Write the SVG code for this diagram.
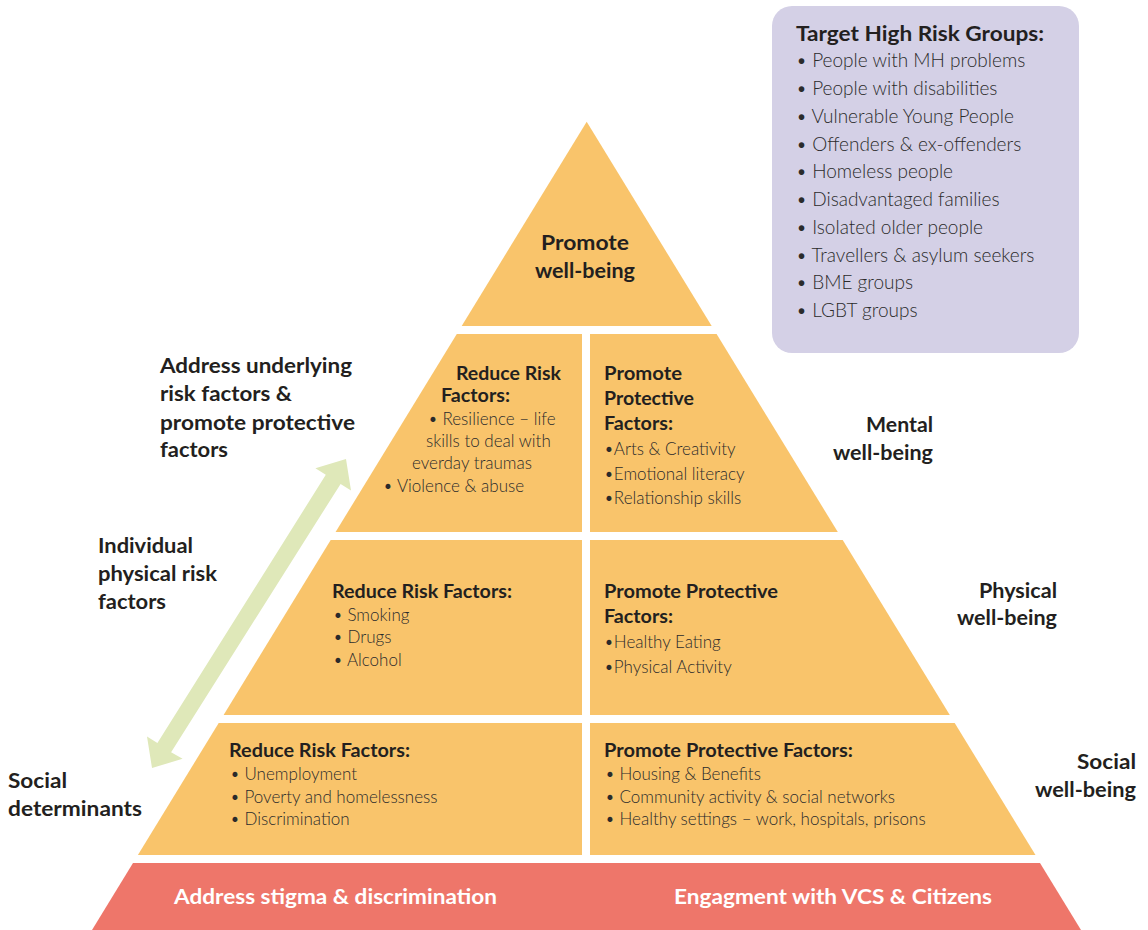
<svg xmlns="http://www.w3.org/2000/svg" width="1148" height="930" viewBox="0 0 1148 930">
<style>
.tier{fill:#F9C46B}
.base{fill:#EE766A}
.panel{fill:#D4D0E6}
.arrow{fill:#DFE8B9}
text{font-family:Lato,"Open Sans","Liberation Sans",sans-serif;fill:#231F20}
.h{font-weight:700;font-size:20px}
.hb{font-weight:700;font-size:18px}
.li{font-weight:300;font-size:17px;fill:#2B2B2B}
.gl{font-weight:300;font-size:19px;fill:#2B2B2B}
.w{fill:#FFFFFF;font-weight:700;font-size:20px}
</style>
<rect width="1148" height="930" fill="#FFFFFF"/>

<g id="high-risk-groups">
<rect class="panel" x="772" y="6" width="307" height="347" rx="20"/>
<text class="h" x="796" y="41" textLength="248" lengthAdjust="spacingAndGlyphs">Target High Risk Groups:</text>
<text class="gl" x="796" y="67">• People with MH problems</text>
<text class="gl" x="796" y="95">• People with disabilities</text>
<text class="gl" x="796" y="123">• Vulnerable Young People</text>
<text class="gl" x="796" y="151">• Offenders &amp; ex-offenders</text>
<text class="gl" x="796" y="178">• Homeless people</text>
<text class="gl" x="796" y="206">• Disadvantaged families</text>
<text class="gl" x="796" y="234">• Isolated older people</text>
<text class="gl" x="796" y="262">• Travellers &amp; asylum seekers</text>
<text class="gl" x="796" y="289">• BME groups</text>
<text class="gl" x="796" y="317">• LGBT groups</text>
</g>

<g id="promote-wellbeing">
<polygon class="tier" points="586.7,121.7 711.7,326 461.7,326"/>
<text class="h" x="541" y="250" textLength="88" lengthAdjust="spacingAndGlyphs">Promote</text>
<text class="h" x="535" y="278" textLength="100" lengthAdjust="spacingAndGlyphs">well-being</text>
</g>

<g id="mental-reduce">
<polygon class="tier" points="456.8,334 582,334 582,532 335.6,532"/>
<text class="hb" x="456" y="380" textLength="105" lengthAdjust="spacingAndGlyphs">Reduce Risk</text>
<text class="hb" x="441" y="402" textLength="69" lengthAdjust="spacingAndGlyphs">Factors:</text>
<text class="li" x="428" y="425">• Resilience – life</text>
<text class="li" x="426" y="447">skills to deal with</text>
<text class="li" x="412" y="469">everday traumas</text>
<text class="li" x="383" y="492">• Violence &amp; abuse</text>
</g>

<g id="mental-promote">
<polygon class="tier" points="590,334 716.6,334 837.8,532 590,532"/>
<text class="hb" x="604" y="380" textLength="78" lengthAdjust="spacingAndGlyphs">Promote</text>
<text class="hb" x="604" y="405" textLength="90" lengthAdjust="spacingAndGlyphs">Protective</text>
<text class="hb" x="604" y="430" textLength="69" lengthAdjust="spacingAndGlyphs">Factors:</text>
<text class="li" x="604" y="455">•Arts &amp; Creativity</text>
<text class="li" x="604" y="480">•Emotional literacy</text>
<text class="li" x="604" y="504">•Relationship skills</text>
</g>

<g id="physical-reduce">
<polygon class="tier" points="330.7,540 582,540 582,715 223.6,715"/>
<text class="hb" x="332" y="598" textLength="180" lengthAdjust="spacingAndGlyphs">Reduce Risk Factors:</text>
<text class="li" x="333" y="621">• Smoking</text>
<text class="li" x="333" y="643">• Drugs</text>
<text class="li" x="333" y="666">• Alcohol</text>
</g>

<g id="physical-promote">
<polygon class="tier" points="590,540 842.7,540 949.8,715 590,715"/>
<text class="hb" x="604" y="598" textLength="174" lengthAdjust="spacingAndGlyphs">Promote Protective</text>
<text class="hb" x="604" y="623" textLength="69" lengthAdjust="spacingAndGlyphs">Factors:</text>
<text class="li" x="604" y="648">•Healthy Eating</text>
<text class="li" x="604" y="673">•Physical Activity</text>
</g>

<g id="social-reduce">
<polygon class="tier" points="218.7,723 582,723 582,855 137.9,855"/>
<text class="hb" x="229" y="757" textLength="181" lengthAdjust="spacingAndGlyphs">Reduce Risk Factors:</text>
<text class="li" x="230" y="780">• Unemployment</text>
<text class="li" x="230" y="803">• Poverty and homelessness</text>
<text class="li" x="230" y="825">• Discrimination</text>
</g>

<g id="social-promote">
<polygon class="tier" points="590,723 954.7,723 1035.5,855 590,855"/>
<text class="hb" x="604" y="757" textLength="249" lengthAdjust="spacingAndGlyphs">Promote Protective Factors:</text>
<text class="li" x="605" y="780">• Housing &amp; Benefits</text>
<text class="li" x="605" y="803">• Community activity &amp; social networks</text>
<text class="li" x="605" y="825">• Healthy settings – work, hospitals, prisons</text>
</g>

<g id="foundation">
<polygon class="base" points="133,863 1040,863 1081,930 92,930"/>
<text class="w" x="174" y="904" textLength="323" lengthAdjust="spacingAndGlyphs">Address stigma &amp; discrimination</text>
<text class="w" x="674" y="904" textLength="318" lengthAdjust="spacingAndGlyphs">Engagment with VCS &amp; Citizens</text>
</g>

<g id="label-mental">
<text class="h" x="866" y="432" textLength="67" lengthAdjust="spacingAndGlyphs">Mental</text>
<text class="h" x="833" y="460" textLength="100" lengthAdjust="spacingAndGlyphs">well-being</text>
</g>
<g id="label-physical">
<text class="h" x="979" y="598" textLength="78" lengthAdjust="spacingAndGlyphs">Physical</text>
<text class="h" x="957" y="625" textLength="100" lengthAdjust="spacingAndGlyphs">well-being</text>
</g>
<g id="label-social">
<text class="h" x="1077" y="769" textLength="59" lengthAdjust="spacingAndGlyphs">Social</text>
<text class="h" x="1035" y="797" textLength="101" lengthAdjust="spacingAndGlyphs">well-being</text>
</g>

<g id="label-address">
<text class="h" x="160" y="373" textLength="192" lengthAdjust="spacingAndGlyphs">Address underlying</text>
<text class="h" x="160" y="401" textLength="132" lengthAdjust="spacingAndGlyphs">risk factors &amp;</text>
<text class="h" x="160" y="430" textLength="195" lengthAdjust="spacingAndGlyphs">promote protective</text>
<text class="h" x="160" y="457" textLength="68" lengthAdjust="spacingAndGlyphs">factors</text>
</g>
<g id="label-individual">
<text class="h" x="98" y="553" textLength="95" lengthAdjust="spacingAndGlyphs">Individual</text>
<text class="h" x="98" y="581" textLength="119" lengthAdjust="spacingAndGlyphs">physical risk</text>
<text class="h" x="98" y="609" textLength="68" lengthAdjust="spacingAndGlyphs">factors</text>
</g>
<g id="label-social-determinants">
<text class="h" x="8" y="788" textLength="59" lengthAdjust="spacingAndGlyphs">Social</text>
<text class="h" x="8" y="816" textLength="134" lengthAdjust="spacingAndGlyphs">determinants</text>
</g>

<g id="connectors">
<polygon class="arrow" points="346,459 351,490.5 340.6,483.9 171.1,752.2 182.6,758.8 152,768 147,736.5 157.4,743.1 325.8,474.8 315.4,468.2"/>
</g>
</svg>
